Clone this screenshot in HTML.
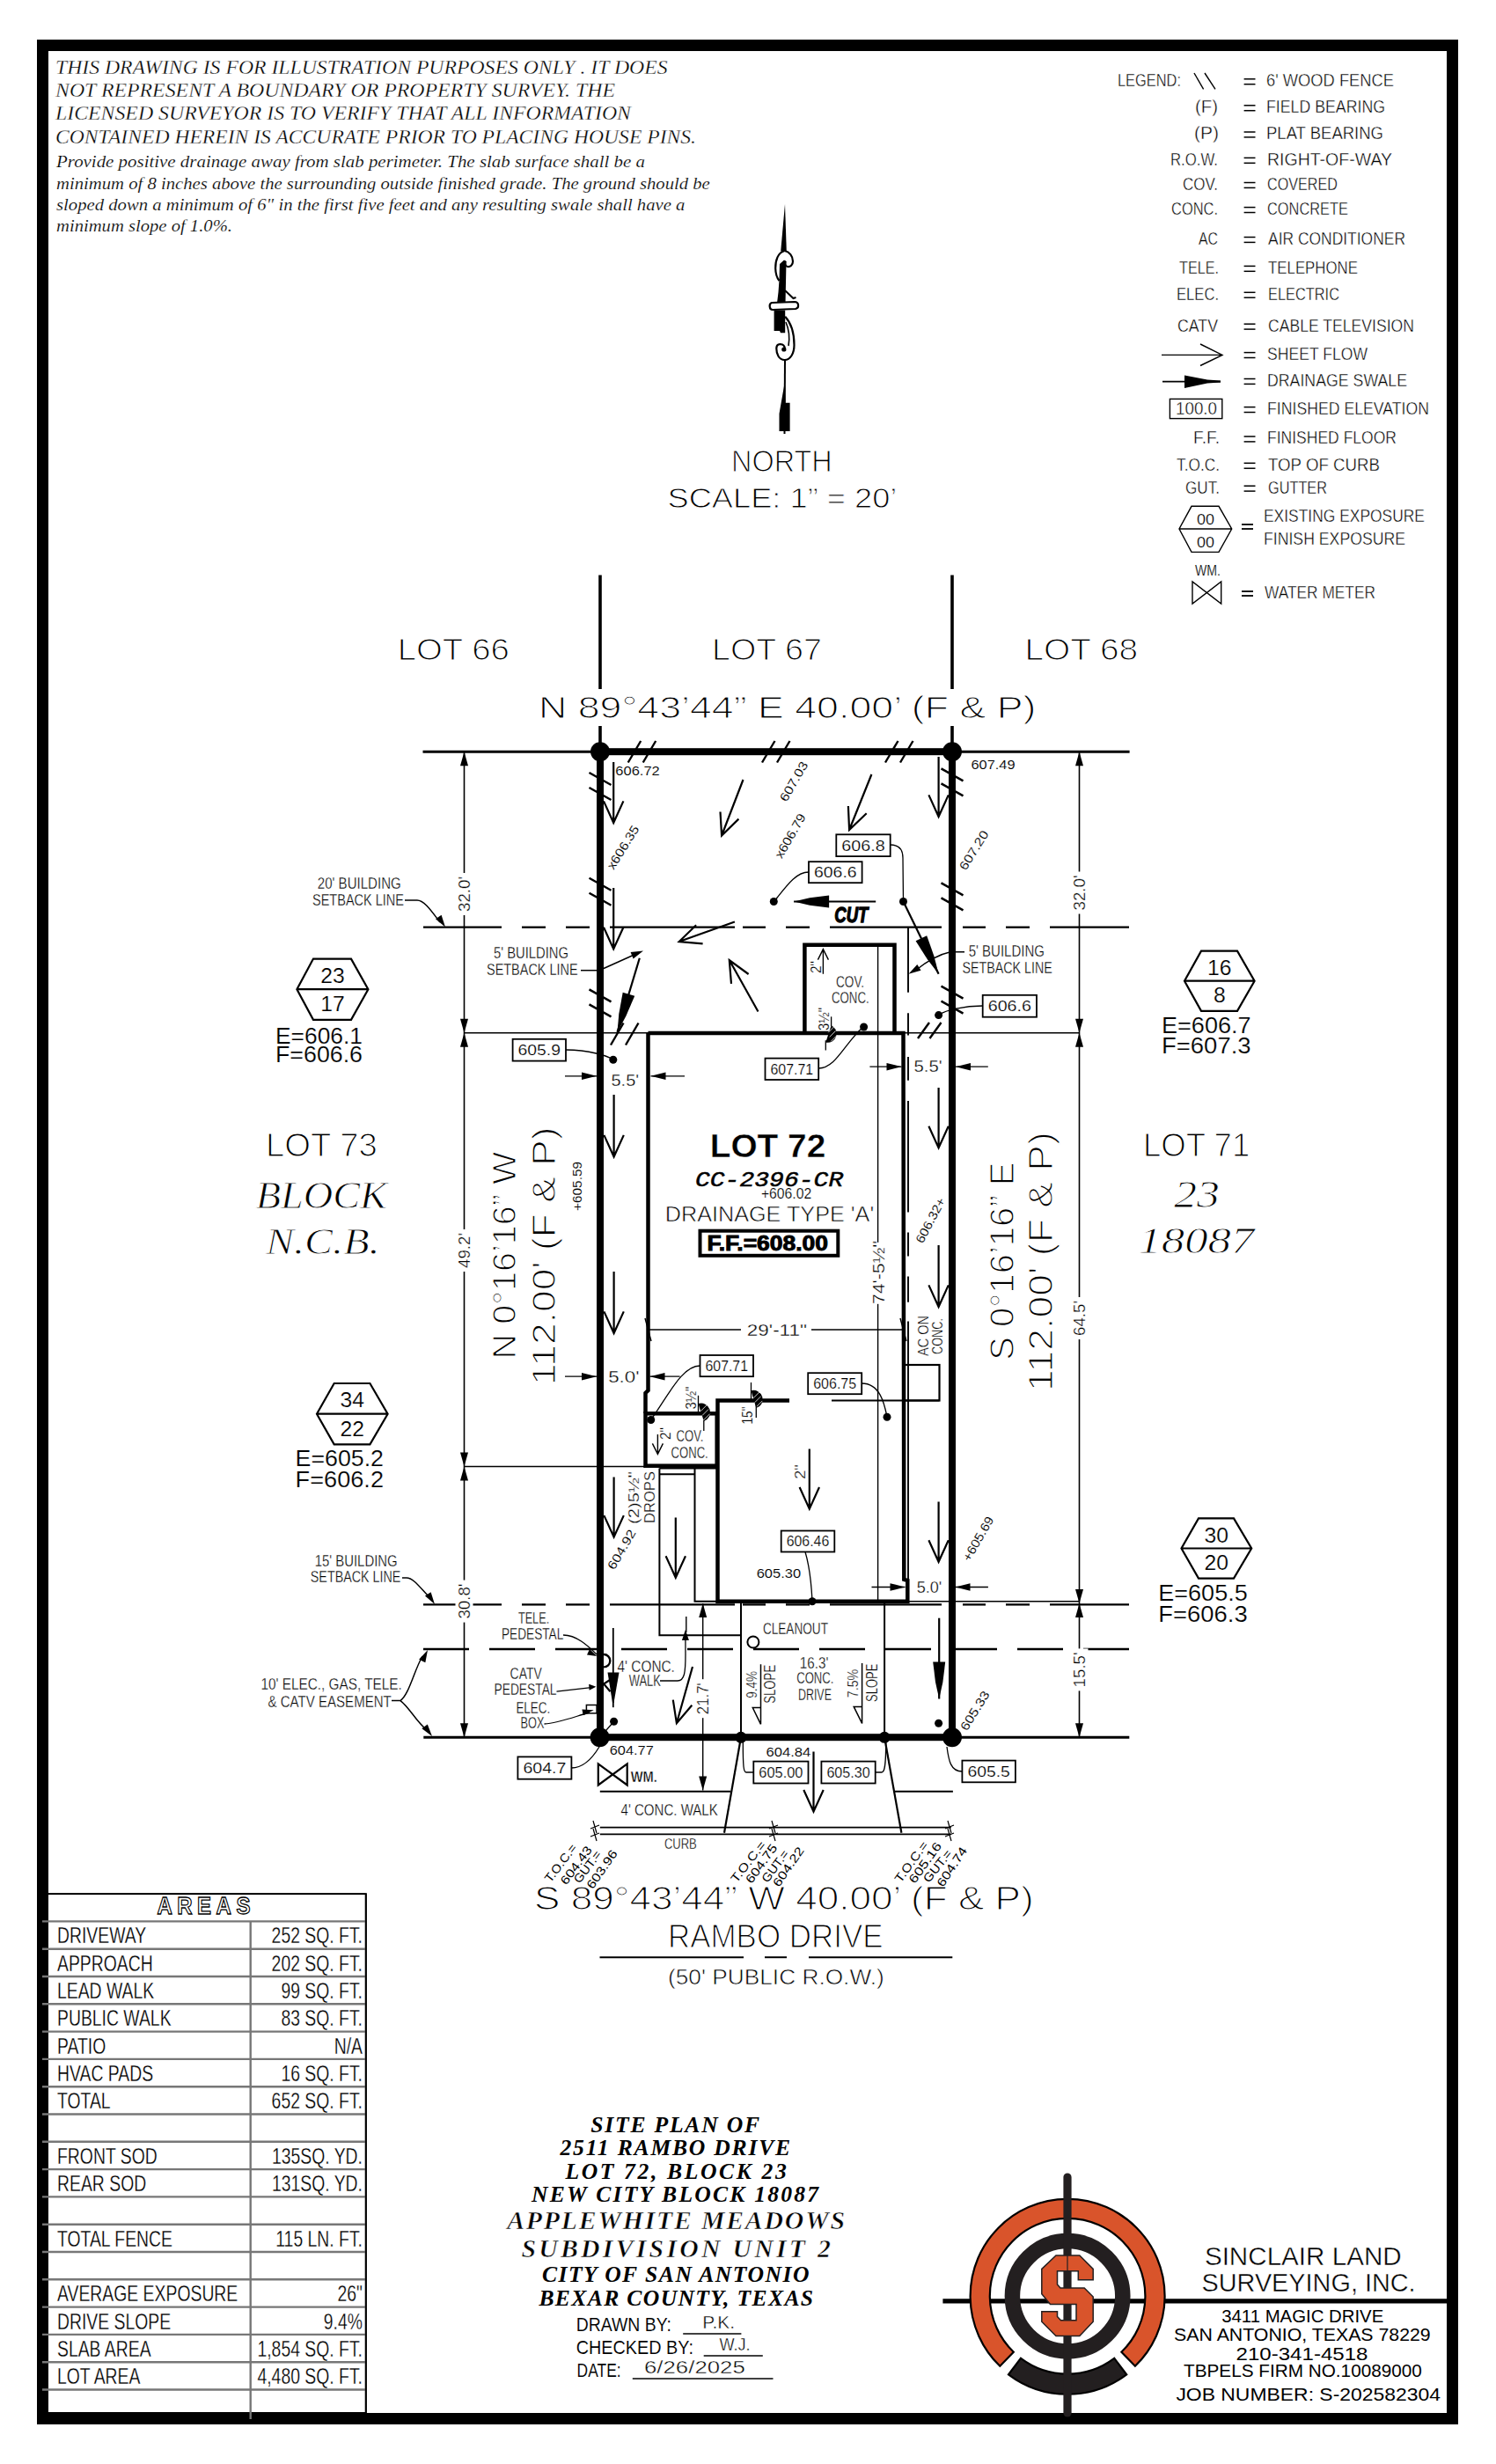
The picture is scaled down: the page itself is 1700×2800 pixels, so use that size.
<!DOCTYPE html>
<html><head><meta charset="utf-8"><title>Site Plan</title>
<style>
html,body{margin:0;padding:0;background:#fff;}
svg{display:block;}
text{font-family:"Liberation Sans",sans-serif;fill:#000;stroke:#fff;stroke-width:0.4px;}
.nt{stroke:none}
</style></head><body>
<svg width="1700" height="2800" viewBox="0 0 1700 2800">
<rect x="0" y="0" width="1700" height="2800" fill="#fff"/>
<rect x="48.5" y="51.5" width="1602" height="2697" fill="none" stroke="#000" stroke-width="13"/>
<text x="63" y="83.5" font-size="23.7" style="stroke:#fff;stroke-width:0.35px;font-family:'Liberation Serif'" font-style="italic" textLength="695.5" lengthAdjust="spacingAndGlyphs">THIS DRAWING IS FOR ILLUSTRATION PURPOSES ONLY . IT DOES</text>
<text x="63" y="109.8" font-size="23.7" style="stroke:#fff;stroke-width:0.35px;font-family:'Liberation Serif'" font-style="italic" textLength="636" lengthAdjust="spacingAndGlyphs">NOT REPRESENT A BOUNDARY OR PROPERTY SURVEY. THE</text>
<text x="63" y="136.4" font-size="23.7" style="stroke:#fff;stroke-width:0.35px;font-family:'Liberation Serif'" font-style="italic" textLength="654" lengthAdjust="spacingAndGlyphs">LICENSED SURVEYOR IS TO VERIFY THAT ALL INFORMATION</text>
<text x="63" y="163.2" font-size="23.7" style="stroke:#fff;stroke-width:0.35px;font-family:'Liberation Serif'" font-style="italic" textLength="728" lengthAdjust="spacingAndGlyphs">CONTAINED HEREIN IS ACCURATE PRIOR TO PLACING HOUSE PINS.</text>
<text x="64" y="190.3" font-size="19.1" style="stroke:#fff;stroke-width:0.2px;font-family:'Liberation Serif'" font-style="italic" textLength="669" lengthAdjust="spacingAndGlyphs">Provide positive drainage away from slab perimeter. The slab surface shall be a</text>
<text x="64" y="214.8" font-size="19.1" style="stroke:#fff;stroke-width:0.2px;font-family:'Liberation Serif'" font-style="italic" textLength="742.8" lengthAdjust="spacingAndGlyphs">minimum of 8 inches above the surrounding outside finished grade. The ground should be</text>
<text x="64" y="238.6" font-size="19.1" style="stroke:#fff;stroke-width:0.2px;font-family:'Liberation Serif'" font-style="italic" textLength="714.4" lengthAdjust="spacingAndGlyphs">sloped down a minimum of 6" in the first five feet and any resulting swale shall have a</text>
<text x="64" y="262.5" font-size="19.1" style="stroke:#fff;stroke-width:0.2px;font-family:'Liberation Serif'" font-style="italic" textLength="200" lengthAdjust="spacingAndGlyphs">minimum slope of 1.0%.</text>
<text x="1270" y="98.2" font-size="19.5" style=";stroke-width:0.4px" textLength="72" lengthAdjust="spacingAndGlyphs">LEGEND:</text>
<line x1="1413.6" y1="89.8" x2="1426.5" y2="89.8" stroke="#000" stroke-width="1.5" />
<line x1="1413.6" y1="95.7" x2="1426.5" y2="95.7" stroke="#000" stroke-width="1.5" />
<text x="1439" y="98.2" font-size="19.5" style=";stroke-width:0.4px" textLength="145" lengthAdjust="spacingAndGlyphs">6' WOOD FENCE</text>
<text x="1358" y="128.2" font-size="19.5" style=";stroke-width:0.4px" textLength="26" lengthAdjust="spacingAndGlyphs">(F)</text>
<line x1="1413.6" y1="119.8" x2="1426.5" y2="119.8" stroke="#000" stroke-width="1.5" />
<line x1="1413.6" y1="125.7" x2="1426.5" y2="125.7" stroke="#000" stroke-width="1.5" />
<text x="1439" y="128.2" font-size="19.5" style=";stroke-width:0.4px" textLength="135" lengthAdjust="spacingAndGlyphs">FIELD BEARING</text>
<text x="1357" y="158.4" font-size="19.5" style=";stroke-width:0.4px" textLength="28" lengthAdjust="spacingAndGlyphs">(P)</text>
<line x1="1413.6" y1="150" x2="1426.5" y2="150" stroke="#000" stroke-width="1.5" />
<line x1="1413.6" y1="155.9" x2="1426.5" y2="155.9" stroke="#000" stroke-width="1.5" />
<text x="1439" y="158.4" font-size="19.5" style=";stroke-width:0.4px" textLength="133" lengthAdjust="spacingAndGlyphs">PLAT BEARING</text>
<text x="1330" y="187.8" font-size="19.5" style=";stroke-width:0.4px" textLength="54" lengthAdjust="spacingAndGlyphs">R.O.W.</text>
<line x1="1413.6" y1="179.4" x2="1426.5" y2="179.4" stroke="#000" stroke-width="1.5" />
<line x1="1413.6" y1="185.3" x2="1426.5" y2="185.3" stroke="#000" stroke-width="1.5" />
<text x="1440" y="187.8" font-size="19.5" style=";stroke-width:0.4px" textLength="142" lengthAdjust="spacingAndGlyphs">RIGHT-OF-WAY</text>
<text x="1344" y="215.9" font-size="19.5" style=";stroke-width:0.4px" textLength="40" lengthAdjust="spacingAndGlyphs">COV.</text>
<line x1="1413.6" y1="207.5" x2="1426.5" y2="207.5" stroke="#000" stroke-width="1.5" />
<line x1="1413.6" y1="213.4" x2="1426.5" y2="213.4" stroke="#000" stroke-width="1.5" />
<text x="1440" y="215.9" font-size="19.5" style=";stroke-width:0.4px" textLength="80" lengthAdjust="spacingAndGlyphs">COVERED</text>
<text x="1331" y="244" font-size="19.5" style=";stroke-width:0.4px" textLength="53" lengthAdjust="spacingAndGlyphs">CONC.</text>
<line x1="1413.6" y1="235.6" x2="1426.5" y2="235.6" stroke="#000" stroke-width="1.5" />
<line x1="1413.6" y1="241.5" x2="1426.5" y2="241.5" stroke="#000" stroke-width="1.5" />
<text x="1440" y="244" font-size="19.5" style=";stroke-width:0.4px" textLength="92" lengthAdjust="spacingAndGlyphs">CONCRETE</text>
<text x="1362" y="277.9" font-size="19.5" style=";stroke-width:0.4px" textLength="22" lengthAdjust="spacingAndGlyphs">AC</text>
<line x1="1413.6" y1="269.5" x2="1426.5" y2="269.5" stroke="#000" stroke-width="1.5" />
<line x1="1413.6" y1="275.4" x2="1426.5" y2="275.4" stroke="#000" stroke-width="1.5" />
<text x="1441" y="277.9" font-size="19.5" style=";stroke-width:0.4px" textLength="156" lengthAdjust="spacingAndGlyphs">AIR CONDITIONER</text>
<text x="1340" y="310.8" font-size="19.5" style=";stroke-width:0.4px" textLength="45" lengthAdjust="spacingAndGlyphs">TELE.</text>
<line x1="1413.6" y1="302.4" x2="1426.5" y2="302.4" stroke="#000" stroke-width="1.5" />
<line x1="1413.6" y1="308.3" x2="1426.5" y2="308.3" stroke="#000" stroke-width="1.5" />
<text x="1441" y="310.8" font-size="19.5" style=";stroke-width:0.4px" textLength="102" lengthAdjust="spacingAndGlyphs">TELEPHONE</text>
<text x="1337" y="340.7" font-size="19.5" style=";stroke-width:0.4px" textLength="48" lengthAdjust="spacingAndGlyphs">ELEC.</text>
<line x1="1413.6" y1="332.3" x2="1426.5" y2="332.3" stroke="#000" stroke-width="1.5" />
<line x1="1413.6" y1="338.2" x2="1426.5" y2="338.2" stroke="#000" stroke-width="1.5" />
<text x="1441" y="340.7" font-size="19.5" style=";stroke-width:0.4px" textLength="81" lengthAdjust="spacingAndGlyphs">ELECTRIC</text>
<text x="1338" y="376.6" font-size="19.5" style=";stroke-width:0.4px" textLength="46" lengthAdjust="spacingAndGlyphs">CATV</text>
<line x1="1413.6" y1="368.2" x2="1426.5" y2="368.2" stroke="#000" stroke-width="1.5" />
<line x1="1413.6" y1="374.1" x2="1426.5" y2="374.1" stroke="#000" stroke-width="1.5" />
<text x="1441" y="376.6" font-size="19.5" style=";stroke-width:0.4px" textLength="166" lengthAdjust="spacingAndGlyphs">CABLE TELEVISION</text>
<line x1="1413.6" y1="400.6" x2="1426.5" y2="400.6" stroke="#000" stroke-width="1.5" />
<line x1="1413.6" y1="406.5" x2="1426.5" y2="406.5" stroke="#000" stroke-width="1.5" />
<text x="1440" y="409" font-size="19.5" style=";stroke-width:0.4px" textLength="114" lengthAdjust="spacingAndGlyphs">SHEET FLOW</text>
<line x1="1413.6" y1="430.5" x2="1426.5" y2="430.5" stroke="#000" stroke-width="1.5" />
<line x1="1413.6" y1="436.4" x2="1426.5" y2="436.4" stroke="#000" stroke-width="1.5" />
<text x="1440" y="438.9" font-size="19.5" style=";stroke-width:0.4px" textLength="159" lengthAdjust="spacingAndGlyphs">DRAINAGE SWALE</text>
<line x1="1413.6" y1="462.6" x2="1426.5" y2="462.6" stroke="#000" stroke-width="1.5" />
<line x1="1413.6" y1="468.5" x2="1426.5" y2="468.5" stroke="#000" stroke-width="1.5" />
<text x="1440" y="471" font-size="19.5" style=";stroke-width:0.4px" textLength="184" lengthAdjust="spacingAndGlyphs">FINISHED ELEVATION</text>
<text x="1356" y="504.4" font-size="19.5" style=";stroke-width:0.4px" textLength="30" lengthAdjust="spacingAndGlyphs">F.F.</text>
<line x1="1413.6" y1="496" x2="1426.5" y2="496" stroke="#000" stroke-width="1.5" />
<line x1="1413.6" y1="501.9" x2="1426.5" y2="501.9" stroke="#000" stroke-width="1.5" />
<text x="1440" y="504.4" font-size="19.5" style=";stroke-width:0.4px" textLength="147" lengthAdjust="spacingAndGlyphs">FINISHED FLOOR</text>
<text x="1337" y="534.7" font-size="19.5" style=";stroke-width:0.4px" textLength="49" lengthAdjust="spacingAndGlyphs">T.O.C.</text>
<line x1="1413.6" y1="526.3" x2="1426.5" y2="526.3" stroke="#000" stroke-width="1.5" />
<line x1="1413.6" y1="532.2" x2="1426.5" y2="532.2" stroke="#000" stroke-width="1.5" />
<text x="1441" y="534.7" font-size="19.5" style=";stroke-width:0.4px" textLength="127" lengthAdjust="spacingAndGlyphs">TOP OF CURB</text>
<text x="1347" y="560.6" font-size="19.5" style=";stroke-width:0.4px" textLength="39" lengthAdjust="spacingAndGlyphs">GUT.</text>
<line x1="1413.6" y1="552.2" x2="1426.5" y2="552.2" stroke="#000" stroke-width="1.5" />
<line x1="1413.6" y1="558.1" x2="1426.5" y2="558.1" stroke="#000" stroke-width="1.5" />
<text x="1441" y="560.6" font-size="19.5" style=";stroke-width:0.4px" textLength="67" lengthAdjust="spacingAndGlyphs">GUTTER</text>
<line x1="1357" y1="83" x2="1367.6" y2="101.4" stroke="#000" stroke-width="1.4" />
<line x1="1369" y1="83" x2="1381" y2="101.4" stroke="#000" stroke-width="1.4" />
<path d="M1320 403.4 L1389 403.4 M1364 391 L1389 403.4 L1364 415.5" fill="none" stroke="#000" stroke-width="1.4" />
<line x1="1321" y1="433.6" x2="1387" y2="433.6" stroke="#000" stroke-width="1.8" />
<path d="M1346 426.5 L1346 441 L1372 435.5 L1387 434.5 L1387 432.5 L1372 431.5 Z" fill="#000" stroke="none" />
<rect x="1329.4" y="453.4" width="59.4" height="22.2" fill="none" stroke="#000" stroke-width="1.4"/>
<text x="1336" y="471" font-size="19.5" style=";stroke-width:0.4px" textLength="47" lengthAdjust="spacingAndGlyphs">100.0</text>
<path d="M1354 575.3 L1385 575.3 L1399.7 601 L1385 627.4 L1354 627.4 L1340 601 Z M1340 601 L1399.7 601" fill="none" stroke="#000" stroke-width="1.4" />
<text x="1360" y="596" font-size="16" style=";stroke-width:0.2px" textLength="20" lengthAdjust="spacingAndGlyphs">00</text>
<text x="1360" y="622" font-size="16" style=";stroke-width:0.2px" textLength="20" lengthAdjust="spacingAndGlyphs">00</text>
<line x1="1411" y1="596" x2="1424" y2="596" stroke="#000" stroke-width="1.8" />
<line x1="1411" y1="601" x2="1424" y2="601" stroke="#000" stroke-width="1.8" />
<text x="1436" y="592.7" font-size="19.5" style=";stroke-width:0.4px" textLength="183" lengthAdjust="spacingAndGlyphs">EXISTING EXPOSURE</text>
<text x="1436" y="618.6" font-size="19.5" style=";stroke-width:0.4px" textLength="161" lengthAdjust="spacingAndGlyphs">FINISH EXPOSURE</text>
<text x="1358" y="654" font-size="16" style=";stroke-width:0.2px" textLength="29" lengthAdjust="spacingAndGlyphs">WM.</text>
<path d="M1355 661 L1355 686 L1387.7 661 L1387.7 686 Z" fill="none" stroke="#000" stroke-width="1.4" />
<line x1="1411" y1="672" x2="1424" y2="672" stroke="#000" stroke-width="1.8" />
<line x1="1411" y1="677" x2="1424" y2="677" stroke="#000" stroke-width="1.8" />
<text x="1437" y="679.6" font-size="19.5" style=";stroke-width:0.4px" textLength="126" lengthAdjust="spacingAndGlyphs">WATER METER</text>
<path d="M892 232 L887.2 285.5 L893.8 285.5 Z" fill="#000" stroke="none" />
<path d="M891.6 285 C 884 287, 881 296, 881.2 305 C 881.4 312, 883 316, 885.5 319" fill="none" stroke="#000" stroke-width="2.2" />
<path d="M891.6 285 C 897 286, 901 291, 901 297 C 901 301, 898 303.5, 895 303 C 892 302.5, 891.5 299, 892.5 296.5" fill="none" stroke="#000" stroke-width="2.2" />
<path d="M886 300 L891 295.5 L893.5 297 L892.5 345.5 L882.9 345.5 L884.5 332 L885.5 318 Z" fill="#000" stroke="none" />
<path d="M892 330 L901.5 339 L904.5 338" fill="none" stroke="#000" stroke-width="2" />
<path d="M877 344 L903 343 C 908 343, 908.5 350, 904 351 L878 352 C 874 352, 873.5 345, 877 344 Z" fill="#fff" stroke="#000" stroke-width="2.2" />
<path d="M879.6 352.5 L892.2 352.5 L892.2 378.3 L887 378.3 L886 376 L879.6 376 Z" fill="#000" stroke="none" />
<path d="M892.2 359.7 C 899 367, 902.5 378, 902.5 392 C 902.5 402, 898 409, 891.6 409 C 885 409, 882.3 402, 882.3 396 C 882.3 391, 886 390.5, 889 391.5 C 891.5 392.5, 892.2 396, 892 399" fill="none" stroke="#000" stroke-width="2.2" />
<path d="M893 366 C 896.5 374, 897.5 384, 896 393" fill="none" stroke="#000" stroke-width="1.6" />
<circle cx="890.8" cy="397" r="2.6" fill="#000" stroke="none" stroke-width="0"/>
<line x1="892" y1="409" x2="891.5" y2="493" stroke="#000" stroke-width="2" />
<path d="M892 433 L885.5 470 L885.5 490 L897.6 490 L897.6 457.7 L892.5 457.7 Z" fill="#000" stroke="none" />
<text x="831" y="535.9" font-size="35.8" style=";stroke-width:1.2px" textLength="114.7" lengthAdjust="spacingAndGlyphs">NORTH</text>
<text x="758.5" y="576.8" font-size="30.5" style=";stroke-width:0.9px" textLength="260.9" lengthAdjust="spacingAndGlyphs">SCALE:  1”  =  20’</text>
<line x1="682" y1="653.5" x2="682" y2="783" stroke="#000" stroke-width="3.6" />
<line x1="682" y1="825" x2="682" y2="854" stroke="#000" stroke-width="3.6" />
<line x1="1082" y1="653.5" x2="1082" y2="783" stroke="#000" stroke-width="3.6" />
<line x1="1082" y1="825" x2="1082" y2="854" stroke="#000" stroke-width="3.6" />
<text x="451.7" y="749.8" font-size="35.9" style=";stroke-width:1.2px" textLength="127.2" lengthAdjust="spacingAndGlyphs">LOT 66</text>
<text x="809" y="749.8" font-size="35.9" style=";stroke-width:1.2px" textLength="125" lengthAdjust="spacingAndGlyphs">LOT 67</text>
<text x="1164.5" y="749.8" font-size="35.9" style=";stroke-width:1.2px" textLength="128.7" lengthAdjust="spacingAndGlyphs">LOT 68</text>
<text x="612" y="816" font-size="34.9" style=";stroke-width:1.1px" textLength="565.4" lengthAdjust="spacingAndGlyphs">N 89°43’44” E 40.00’ (F &amp; P)</text>
<line x1="480.5" y1="854.2" x2="1283.6" y2="854.2" stroke="#000" stroke-width="3" />
<line x1="481.3" y1="1974.3" x2="1283.3" y2="1974.3" stroke="#000" stroke-width="3" />
<rect x="682" y="854.2" width="400" height="1120" fill="none" stroke="#000" stroke-width="8"/>
<circle cx="682" cy="854.2" r="11" fill="#000" stroke="none" stroke-width="0"/>
<circle cx="1082" cy="854.2" r="11" fill="#000" stroke="none" stroke-width="0"/>
<circle cx="681.6" cy="1974.2" r="11" fill="#000" stroke="none" stroke-width="0"/>
<circle cx="1082" cy="1974.2" r="11" fill="#000" stroke="none" stroke-width="0"/>
<circle cx="842" cy="1974.3" r="6.5" fill="#000" stroke="none" stroke-width="0"/>
<circle cx="1005.1" cy="1974.3" r="6.5" fill="#000" stroke="none" stroke-width="0"/>
<line x1="481" y1="1053.7" x2="570" y2="1053.7" stroke="#000" stroke-width="2.3" />
<line x1="481" y1="1823.4" x2="570" y2="1823.4" stroke="#000" stroke-width="2.3" />
<line x1="593" y1="1053.7" x2="620" y2="1053.7" stroke="#000" stroke-width="2.3" />
<line x1="593" y1="1823.4" x2="620" y2="1823.4" stroke="#000" stroke-width="2.3" />
<line x1="643" y1="1053.7" x2="670" y2="1053.7" stroke="#000" stroke-width="2.3" />
<line x1="643" y1="1823.4" x2="670" y2="1823.4" stroke="#000" stroke-width="2.3" />
<line x1="693" y1="1053.7" x2="835" y2="1053.7" stroke="#000" stroke-width="2.3" />
<line x1="693" y1="1823.4" x2="835" y2="1823.4" stroke="#000" stroke-width="2.3" />
<line x1="844" y1="1053.7" x2="870" y2="1053.7" stroke="#000" stroke-width="2.3" />
<line x1="844" y1="1823.4" x2="870" y2="1823.4" stroke="#000" stroke-width="2.3" />
<line x1="893" y1="1053.7" x2="920" y2="1053.7" stroke="#000" stroke-width="2.3" />
<line x1="893" y1="1823.4" x2="920" y2="1823.4" stroke="#000" stroke-width="2.3" />
<line x1="943" y1="1053.7" x2="1070" y2="1053.7" stroke="#000" stroke-width="2.3" />
<line x1="943" y1="1823.4" x2="1070" y2="1823.4" stroke="#000" stroke-width="2.3" />
<line x1="1094" y1="1053.7" x2="1120" y2="1053.7" stroke="#000" stroke-width="2.3" />
<line x1="1094" y1="1823.4" x2="1120" y2="1823.4" stroke="#000" stroke-width="2.3" />
<line x1="1143" y1="1053.7" x2="1170" y2="1053.7" stroke="#000" stroke-width="2.3" />
<line x1="1143" y1="1823.4" x2="1170" y2="1823.4" stroke="#000" stroke-width="2.3" />
<line x1="1193" y1="1053.7" x2="1283" y2="1053.7" stroke="#000" stroke-width="2.3" />
<line x1="1193" y1="1823.4" x2="1283" y2="1823.4" stroke="#000" stroke-width="2.3" />
<line x1="481" y1="1874" x2="1283" y2="1874" stroke="#000" stroke-width="2.3" stroke-dasharray="52 23"/>
<line x1="527.5" y1="854.2" x2="527.5" y2="1974.3" stroke="#000" stroke-width="1.6" />
<path d="M527.5 854.2 L532 870.2 L523 870.2 Z" fill="#000" stroke="none" />
<path d="M527.5 1173.8 L523 1157.8 L532 1157.8 Z" fill="#000" stroke="none" />
<path d="M527.5 1173.8 L532 1189.8 L523 1189.8 Z" fill="#000" stroke="none" />
<path d="M527.5 1974.3 L523 1958.3 L532 1958.3 Z" fill="#000" stroke="none" />
<line x1="1226.5" y1="854.2" x2="1226.5" y2="1974.3" stroke="#000" stroke-width="1.6" />
<path d="M1226.5 854.2 L1231 870.2 L1222 870.2 Z" fill="#000" stroke="none" />
<path d="M1226.5 1173.8 L1222 1157.8 L1231 1157.8 Z" fill="#000" stroke="none" />
<path d="M1226.5 1173.8 L1231 1189.8 L1222 1189.8 Z" fill="#000" stroke="none" />
<path d="M1226.5 1974.3 L1222 1958.3 L1231 1958.3 Z" fill="#000" stroke="none" />
<path d="M527.5 1666.5 L523 1650.5 L532 1650.5 Z" fill="#000" stroke="none" />
<path d="M527.5 1666.5 L532 1682.5 L523 1682.5 Z" fill="#000" stroke="none" />
<path d="M527.5 1823.4 L523 1807.4 L532 1807.4 Z" fill="#000" stroke="none" />
<path d="M527.5 1823.4 L532 1839.4 L523 1839.4 Z" fill="#000" stroke="none" />
<path d="M1226.5 1822 L1222 1806 L1231 1806 Z" fill="#000" stroke="none" />
<path d="M1226.5 1822 L1231 1838 L1222 1838 Z" fill="#000" stroke="none" />
<line x1="528" y1="1173.8" x2="1226.5" y2="1173.8" stroke="#000" stroke-width="1.4" />
<line x1="528" y1="1666.5" x2="733" y2="1666.5" stroke="#000" stroke-width="1.4" />
<line x1="1031" y1="1819.8" x2="1226.5" y2="1819.8" stroke="#000" stroke-width="1.4" />
<rect x="503.5" y="1006" width="48" height="20" fill="#fff" transform="rotate(-90 527.5 1016)"/>
<text transform="translate(533.8,1036) rotate(-90)" x="0" y="0" font-size="18.2" style=";stroke-width:0.3px" textLength="40" lengthAdjust="spacingAndGlyphs">32.0'</text>
<rect x="1202.5" y="1004.5" width="48" height="20" fill="#fff" transform="rotate(-90 1226.5 1014.5)"/>
<text transform="translate(1232.8,1034.5) rotate(-90)" x="0" y="0" font-size="18.2" style=";stroke-width:0.3px" textLength="40" lengthAdjust="spacingAndGlyphs">32.0'</text>
<rect x="503.5" y="1411" width="48" height="20" fill="#fff" transform="rotate(-90 527.5 1421)"/>
<text transform="translate(533.8,1441) rotate(-90)" x="0" y="0" font-size="18.2" style=";stroke-width:0.3px" textLength="40" lengthAdjust="spacingAndGlyphs">49.2'</text>
<rect x="1202.5" y="1488" width="48" height="20" fill="#fff" transform="rotate(-90 1226.5 1498)"/>
<text transform="translate(1232.8,1518) rotate(-90)" x="0" y="0" font-size="18.2" style=";stroke-width:0.3px" textLength="40" lengthAdjust="spacingAndGlyphs">64.5'</text>
<rect x="503.5" y="1809.6" width="48" height="20" fill="#fff" transform="rotate(-90 527.5 1819.6)"/>
<text transform="translate(533.8,1839.6) rotate(-90)" x="0" y="0" font-size="18.2" style=";stroke-width:0.3px" textLength="40" lengthAdjust="spacingAndGlyphs">30.8'</text>
<rect x="1202.5" y="1887.4" width="48" height="20" fill="#fff" transform="rotate(-90 1226.5 1897.4)"/>
<text transform="translate(1232.8,1917.4) rotate(-90)" x="0" y="0" font-size="18.2" style=";stroke-width:0.3px" textLength="40" lengthAdjust="spacingAndGlyphs">15.5'</text>
<text x="360.8" y="1010" font-size="18.3" style=";stroke-width:0.3px" textLength="95" lengthAdjust="spacingAndGlyphs">20' BUILDING</text>
<text x="355" y="1029.2" font-size="18.3" style=";stroke-width:0.3px" textLength="104" lengthAdjust="spacingAndGlyphs">SETBACK LINE</text>
<path d="M460 1023 L474 1023 C 482 1023, 490 1035, 500 1048" fill="none" stroke="#000" stroke-width="1.5" />
<path d="M506 1053.6 L495 1044.2 L501.6 1039.8 Z" fill="#000" stroke="none" />
<text x="561" y="1088.6" font-size="18.3" style=";stroke-width:0.3px" textLength="85" lengthAdjust="spacingAndGlyphs">5' BUILDING</text>
<text x="553" y="1108.3" font-size="18.3" style=";stroke-width:0.3px" textLength="103.6" lengthAdjust="spacingAndGlyphs">SETBACK LINE</text>
<line x1="660" y1="1102.7" x2="681" y2="1102.7" stroke="#000" stroke-width="1.5" />
<line x1="681" y1="1102.7" x2="725" y2="1083" stroke="#000" stroke-width="1.5" />
<path d="M731 1080.5 L719.6 1089.5 L716.6 1082.1 Z" fill="#000" stroke="none" />
<text x="1100.7" y="1086.7" font-size="18.3" style=";stroke-width:0.3px" textLength="86.3" lengthAdjust="spacingAndGlyphs">5' BUILDING</text>
<text x="1093.5" y="1106" font-size="18.3" style=";stroke-width:0.3px" textLength="102.3" lengthAdjust="spacingAndGlyphs">SETBACK LINE</text>
<path d="M1096 1081.8 L1080 1081.8 C 1065 1085, 1050 1095, 1040 1103" fill="none" stroke="#000" stroke-width="1.5" />
<path d="M1032.5 1106.7 L1042.3 1096 L1046.5 1102.8 Z" fill="#000" stroke="none" />
<text x="357.7" y="1780" font-size="18.3" style=";stroke-width:0.3px" textLength="94" lengthAdjust="spacingAndGlyphs">15' BUILDING</text>
<text x="352.8" y="1798.1" font-size="18.3" style=";stroke-width:0.3px" textLength="102.6" lengthAdjust="spacingAndGlyphs">SETBACK LINE</text>
<path d="M457 1793 L462 1793 C 470 1793, 478 1805, 488 1815" fill="none" stroke="#000" stroke-width="1.5" />
<path d="M494 1823 L483 1813.6 L489.6 1809.2 Z" fill="#000" stroke="none" />
<text x="296.4" y="1920.3" font-size="18.3" style=";stroke-width:0.3px" textLength="160.4" lengthAdjust="spacingAndGlyphs">10' ELEC., GAS, TELE.</text>
<text x="304.5" y="1940.4" font-size="18.3" style=";stroke-width:0.3px" textLength="140.3" lengthAdjust="spacingAndGlyphs">&amp; CATV EASEMENT</text>
<path d="M445 1932.6 L455 1932.6 C 465 1925, 470 1900, 480 1882" fill="none" stroke="#000" stroke-width="1.5" />
<path d="M455 1932.6 C 465 1940, 472 1955, 484 1965" fill="none" stroke="#000" stroke-width="1.5" />
<path d="M486 1875 L483.3 1889.3 L476.1 1885.7 Z" fill="#000" stroke="none" />
<path d="M491 1973 L479.4 1964.2 L485.8 1959.4 Z" fill="#000" stroke="none" />
<path d="M356 1089.6 L399 1089.6 L418.4 1124.2 L399 1158.8 L356 1158.8 L337.4 1124.2 Z M337.4 1124.2 L418.4 1124.2" fill="none" stroke="#000" stroke-width="2.2" />
<text x="377.9" y="1116.9" font-size="24.7" style="stroke-width:0.2px" text-anchor="middle">23</text>
<text x="377.9" y="1149" font-size="24.7" style="stroke-width:0.2px" text-anchor="middle">17</text>
<text x="313" y="1185.5" font-size="25.1" style="stroke-width:0.2px" textLength="99" lengthAdjust="spacingAndGlyphs">E=606.1</text>
<text x="313" y="1206.6" font-size="25.1" style="stroke-width:0.2px" textLength="99" lengthAdjust="spacingAndGlyphs">F=606.6</text>
<path d="M1365 1080.6 L1406 1080.6 L1425.6 1114.7 L1406 1148.8 L1365 1148.8 L1346 1114.7 Z M1346 1114.7 L1425.6 1114.7" fill="none" stroke="#000" stroke-width="2.2" />
<text x="1385.8" y="1107.6" font-size="24.7" style="stroke-width:0.2px" text-anchor="middle">16</text>
<text x="1385.8" y="1139.2" font-size="24.7" style="stroke-width:0.2px" text-anchor="middle">8</text>
<text x="1320" y="1174" font-size="25.1" style="stroke-width:0.2px" textLength="101.6" lengthAdjust="spacingAndGlyphs">E=606.7</text>
<text x="1320" y="1197.4" font-size="25.1" style="stroke-width:0.2px" textLength="101.6" lengthAdjust="spacingAndGlyphs">F=607.3</text>
<path d="M379.7 1572 L420.4 1572 L440.6 1606.7 L420.4 1641.3 L379.7 1641.3 L360 1606.7 Z M360 1606.7 L440.6 1606.7" fill="none" stroke="#000" stroke-width="2.2" />
<text x="400.3" y="1599.3" font-size="24.7" style="stroke-width:0.2px" text-anchor="middle">34</text>
<text x="400.3" y="1631.5" font-size="24.7" style="stroke-width:0.2px" text-anchor="middle">22</text>
<text x="335.6" y="1666.4" font-size="25.1" style="stroke-width:0.2px" textLength="100.4" lengthAdjust="spacingAndGlyphs">E=605.2</text>
<text x="335.6" y="1690.3" font-size="25.1" style="stroke-width:0.2px" textLength="100.4" lengthAdjust="spacingAndGlyphs">F=606.2</text>
<path d="M1362 1725.4 L1402 1725.4 L1422.2 1759.5 L1402 1793.6 L1362 1793.6 L1342.5 1759.5 Z M1342.5 1759.5 L1422.2 1759.5" fill="none" stroke="#000" stroke-width="2.2" />
<text x="1382.3" y="1752.5" font-size="24.7" style="stroke-width:0.2px" text-anchor="middle">30</text>
<text x="1382.3" y="1784" font-size="24.7" style="stroke-width:0.2px" text-anchor="middle">20</text>
<text x="1316.3" y="1818.6" font-size="25.1" style="stroke-width:0.2px" textLength="101.4" lengthAdjust="spacingAndGlyphs">E=605.5</text>
<text x="1316.3" y="1843.4" font-size="25.1" style="stroke-width:0.2px" textLength="101.4" lengthAdjust="spacingAndGlyphs">F=606.3</text>
<text x="301.9" y="1314.2" font-size="36.8" style=";stroke-width:1.2px" textLength="126.9" lengthAdjust="spacingAndGlyphs">LOT 73</text>
<text x="290.7" y="1372.6" font-size="44.3" style="stroke:#fff;stroke-width:0.9px;font-family:'Liberation Serif'" font-style="italic" textLength="149.3" lengthAdjust="spacingAndGlyphs">BLOCK</text>
<text x="301.9" y="1425.1" font-size="42.7" style="stroke:#fff;stroke-width:0.9px;font-family:'Liberation Serif'" font-style="italic" textLength="129.7" lengthAdjust="spacingAndGlyphs">N.C.B.</text>
<text x="1299" y="1314.2" font-size="36.8" style=";stroke-width:1.2px" textLength="121.3" lengthAdjust="spacingAndGlyphs">LOT 71</text>
<text x="1334" y="1371.8" font-size="44.3" style="stroke:#fff;stroke-width:0.9px;font-family:'Liberation Serif'" font-style="italic" textLength="52" lengthAdjust="spacingAndGlyphs">23</text>
<text x="1293.4" y="1423.7" font-size="42.7" style="stroke:#fff;stroke-width:0.9px;font-family:'Liberation Serif'" font-style="italic" textLength="131.9" lengthAdjust="spacingAndGlyphs">18087</text>
<text transform="translate(586,1544.4) rotate(-90)" x="0" y="0" font-size="36.8" style=";stroke-width:1.2px" textLength="235.8" lengthAdjust="spacingAndGlyphs">N 0°16’16” W</text>
<text transform="translate(631,1574) rotate(-90)" x="0" y="0" font-size="36.8" style=";stroke-width:1.2px" textLength="293.5" lengthAdjust="spacingAndGlyphs">112.00' (F &amp; P)</text>
<text transform="translate(1151.6,1545.8) rotate(-90)" x="0" y="0" font-size="38.8" style=";stroke-width:1.3px" textLength="225.4" lengthAdjust="spacingAndGlyphs">S 0°16’16” E</text>
<text transform="translate(1196,1581) rotate(-90)" x="0" y="0" font-size="38.1" style=";stroke-width:1.3px" textLength="294.9" lengthAdjust="spacingAndGlyphs">112.00' (F &amp; P)</text>
<text x="607" y="2170.2" font-size="36.3" style=";stroke-width:1.2px" textLength="567.7" lengthAdjust="spacingAndGlyphs">S 89°43’44” W 40.00’ (F &amp; P)</text>
<text x="759" y="2213.4" font-size="36" style=";stroke-width:1.2px" textLength="244.5" lengthAdjust="spacingAndGlyphs">RAMBO DRIVE</text>
<line x1="681.5" y1="2224.2" x2="845" y2="2224.2" stroke="#000" stroke-width="2" />
<line x1="869" y1="2224.2" x2="894" y2="2224.2" stroke="#000" stroke-width="2" />
<line x1="919" y1="2224.2" x2="1082.3" y2="2224.2" stroke="#000" stroke-width="2" />
<text x="759" y="2254.9" font-size="23.5" style=";stroke-width:0.6px" textLength="245.8" lengthAdjust="spacingAndGlyphs">(50' PUBLIC R.O.W.)</text>
<path d="M736.5 1174 L1026.5 1174 L1027.3 1794.8 L1031.3 1796 L1031.3 1819.7 L815.5 1819.7 L815.5 1666 M736.5 1174 L736.5 1580 L733.5 1583 L733.5 1606" fill="none" stroke="#000" stroke-width="4.5" stroke-linejoin="miter"/>
<path d="M914.4 1174 L914.4 1073.7 L1016.5 1073.7 L1016.5 1174" fill="none" stroke="#000" stroke-width="4.5" />
<rect x="733.5" y="1606.3" width="81.2" height="59.4" fill="none" stroke="#000" stroke-width="4.5"/>
<path d="M815.5 1666 L815.5 1591.5 L897 1591.5" fill="none" stroke="#000" stroke-width="4.5" />
<line x1="945" y1="1591.5" x2="1067.5" y2="1591.5" stroke="#000" stroke-width="2.2" />
<rect x="1027.3" y="1551" width="40.2" height="40.5" fill="none" stroke="#000" stroke-width="2.2"/>
<line x1="997.6" y1="1073.7" x2="997.6" y2="1819.7" stroke="#000" stroke-width="1.4" />
<rect x="962" y="1437.8" width="70" height="18" fill="#fff" transform="rotate(-90 997 1446.8)"/>
<text transform="translate(1004.5,1482) rotate(-90)" x="0" y="0" font-size="18.2" style=";stroke-width:0.3px" textLength="72" lengthAdjust="spacingAndGlyphs">74'-5½"</text>
<line x1="736.5" y1="1511" x2="1026.5" y2="1511" stroke="#000" stroke-width="1.4" />
<rect x="842" y="1500" width="80" height="20" fill="#fff"/>
<text x="848.8" y="1518.2" font-size="18.2" style=";stroke-width:0.3px" textLength="68.2" lengthAdjust="spacingAndGlyphs">29'-11"</text>
<line x1="733" y1="1498" x2="740" y2="1524" stroke="#000" stroke-width="1.4" />
<line x1="1023" y1="1498" x2="1030" y2="1524" stroke="#000" stroke-width="1.4" />
<text x="806.7" y="1314.5" font-size="37.8" font-weight="bold" textLength="131.6" lengthAdjust="spacingAndGlyphs">LOT 72</text>
<text x="789.9" y="1347.8" font-size="23.4" style="stroke:#000;stroke-width:0.5px;font-family:'Liberation Mono'" font-style="italic" textLength="168.4" lengthAdjust="spacingAndGlyphs">CC-2396-CR</text>
<text x="864.9" y="1361.8" font-size="16" style=";stroke-width:0.2px" textLength="57.3" lengthAdjust="spacingAndGlyphs">+606.02</text>
<text x="755.8" y="1387.5" font-size="24.7" style=";stroke-width:0.6px" textLength="237.4" lengthAdjust="spacingAndGlyphs">DRAINAGE TYPE 'A'</text>
<rect x="795.5" y="1398.7" width="156.8" height="28.1" fill="none" stroke="#000" stroke-width="4"/>
<text x="803.5" y="1420.8" font-size="23.3" style="stroke:#000;stroke-width:0.9px" font-weight="bold" textLength="137.5" lengthAdjust="spacingAndGlyphs">F.F.=608.00</text>
<text transform="translate(1054.8,1541) rotate(-90)" x="0" y="0" font-size="17.4" style=";stroke-width:0.3px" textLength="46" lengthAdjust="spacingAndGlyphs">AC ON</text>
<text transform="translate(1070.8,1539) rotate(-90)" x="0" y="0" font-size="17.4" style=";stroke-width:0.3px" textLength="41" lengthAdjust="spacingAndGlyphs">CONC.</text>
<line x1="1032" y1="1053.8" x2="1032" y2="1127.7" stroke="#000" stroke-width="1.9" />
<line x1="1032" y1="1151.2" x2="1032" y2="1176.4" stroke="#000" stroke-width="1.9" />
<line x1="1032" y1="1201" x2="1032" y2="1227.7" stroke="#000" stroke-width="1.9" />
<line x1="1032" y1="1250.9" x2="1032" y2="1377.5" stroke="#000" stroke-width="1.9" />
<line x1="1032" y1="1400.6" x2="1032" y2="1427.4" stroke="#000" stroke-width="1.9" />
<line x1="1032" y1="1450.5" x2="1032" y2="1479.8" stroke="#000" stroke-width="1.9" />
<line x1="1032" y1="1501.4" x2="1032" y2="1820" stroke="#000" stroke-width="1.9" />
<text transform="translate(726,1732) rotate(-90)" x="0" y="0" font-size="17.4" style=";stroke-width:0.3px" textLength="60" lengthAdjust="spacingAndGlyphs">(2)5½"</text>
<text transform="translate(744,1731) rotate(-90)" x="0" y="0" font-size="17.4" style=";stroke-width:0.3px" textLength="59" lengthAdjust="spacingAndGlyphs">DROPS</text>
<text transform="translate(915,1681) rotate(-90)" x="0" y="0" font-size="17.4" style=";stroke-width:0.3px" textLength="17" lengthAdjust="spacingAndGlyphs">2"</text>
<text x="950" y="1122" font-size="18.2" style=";stroke-width:0.3px" textLength="32" lengthAdjust="spacingAndGlyphs">COV.</text>
<text x="945" y="1139.6" font-size="18.2" style=";stroke-width:0.3px" textLength="42.6" lengthAdjust="spacingAndGlyphs">CONC.</text>
<path d="M935.4 1106.7 L935.4 1078.6 M941.4 1090.6 L935.4 1078.6 L929.4 1090.6" fill="none" stroke="#000" stroke-width="1.4" stroke-linejoin="miter" stroke-linecap="butt"/>
<text transform="translate(933,1106) rotate(-90)" x="0" y="0" font-size="16" style=";stroke-width:0.2px" textLength="14" lengthAdjust="spacingAndGlyphs">2"</text>
<text transform="translate(941.6,1171) rotate(-90)" x="0" y="0" font-size="16" style=";stroke-width:0.2px" textLength="26" lengthAdjust="spacingAndGlyphs">3½"</text>
<text x="768.6" y="1638.4" font-size="18.2" style=";stroke-width:0.3px" textLength="30.9" lengthAdjust="spacingAndGlyphs">COV.</text>
<text x="762.6" y="1657.2" font-size="18.2" style=";stroke-width:0.3px" textLength="42.1" lengthAdjust="spacingAndGlyphs">CONC.</text>
<path d="M747.4 1630 L747.4 1652.4 M741.4 1640.4 L747.4 1652.4 L753.4 1640.4" fill="none" stroke="#000" stroke-width="1.4" stroke-linejoin="miter" stroke-linecap="butt"/>
<text transform="translate(762,1636) rotate(-90)" x="0" y="0" font-size="16" style=";stroke-width:0.2px" textLength="14" lengthAdjust="spacingAndGlyphs">2"</text>
<text transform="translate(791.3,1601.6) rotate(-90)" x="0" y="0" font-size="16" style=";stroke-width:0.2px" textLength="26" lengthAdjust="spacingAndGlyphs">3½"</text>
<text transform="translate(854.6,1618.5) rotate(-90)" x="0" y="0" font-size="16" style=";stroke-width:0.2px" textLength="20" lengthAdjust="spacingAndGlyphs">15"</text>
<path d="M944.6 1165.2 A10.2 10.2 0 0 1 938.3 1184.5 Z" fill="#000" stroke="none" />
<line x1="941.2" y1="1173.3" x2="948.2" y2="1166.3" stroke="#fff" stroke-width="0.8" />
<line x1="942.7" y1="1178.4" x2="949.7" y2="1171.4" stroke="#fff" stroke-width="0.8" />
<line x1="944.2" y1="1183.4" x2="951.2" y2="1176.4" stroke="#fff" stroke-width="0.8" />
<line x1="944.6" y1="1155.3" x2="944.6" y2="1166" stroke="#000" stroke-width="1.3" />
<line x1="938.3" y1="1182.3" x2="938.3" y2="1193.5" stroke="#000" stroke-width="1.3" />
<path d="M793.5 1595 A10.4 10.4 0 0 1 799.8 1614.9 Z" fill="#000" stroke="none" />
<line x1="796.5" y1="1603.3" x2="803.5" y2="1596.3" stroke="#fff" stroke-width="0.8" />
<line x1="798" y1="1608.5" x2="805" y2="1601.5" stroke="#fff" stroke-width="0.8" />
<line x1="799.6" y1="1613.7" x2="806.6" y2="1606.7" stroke="#fff" stroke-width="0.8" />
<line x1="793.5" y1="1585.8" x2="793.5" y2="1604" stroke="#000" stroke-width="1.3" />
<line x1="799.8" y1="1614" x2="799.8" y2="1625.9" stroke="#000" stroke-width="1.3" />
<path d="M853.5 1580.3 A10.3 10.3 0 0 1 859.3 1600.1 Z" fill="#000" stroke="none" />
<line x1="856.2" y1="1588.6" x2="863.2" y2="1581.6" stroke="#fff" stroke-width="0.8" />
<line x1="857.7" y1="1593.7" x2="864.7" y2="1586.7" stroke="#fff" stroke-width="0.8" />
<line x1="859.3" y1="1598.9" x2="866.3" y2="1591.9" stroke="#fff" stroke-width="0.8" />
<line x1="853.5" y1="1571" x2="853.5" y2="1590.3" stroke="#000" stroke-width="1.3" />
<line x1="859.3" y1="1596" x2="859.3" y2="1611" stroke="#000" stroke-width="1.3" />
<path d="M749.4 1668.5 L749.4 1858.2 L842 1858.2" fill="none" stroke="#000" stroke-width="2" />
<path d="M789.5 1668.5 L789.5 1819.7 L815.5 1819.7" fill="none" stroke="#000" stroke-width="2" />
<line x1="749.4" y1="1675.3" x2="789.5" y2="1675.3" stroke="#000" stroke-width="2" />
<line x1="749.4" y1="1668.5" x2="815.5" y2="1668.5" stroke="#000" stroke-width="2" />
<line x1="842" y1="1819.7" x2="842" y2="1974.3" stroke="#000" stroke-width="2" />
<line x1="1005.1" y1="1819.7" x2="1005.1" y2="1974.3" stroke="#000" stroke-width="2" />
<line x1="842" y1="1974.3" x2="823" y2="2082.7" stroke="#000" stroke-width="2.2" />
<line x1="1005.1" y1="1974.3" x2="1024.4" y2="2082.7" stroke="#000" stroke-width="2.2" />
<line x1="681.8" y1="2035.7" x2="830" y2="2035.7" stroke="#000" stroke-width="2" />
<line x1="1016" y1="2035.7" x2="1082.9" y2="2035.7" stroke="#000" stroke-width="2" />
<line x1="681.8" y1="2076.6" x2="1080.8" y2="2076.6" stroke="#000" stroke-width="1.8" />
<line x1="681.8" y1="2084.4" x2="1080.8" y2="2084.4" stroke="#000" stroke-width="1.8" />
<text x="705.5" y="2062.6" font-size="18.2" style=";stroke-width:0.3px" textLength="110.3" lengthAdjust="spacingAndGlyphs">4' CONC. WALK</text>
<text x="754.9" y="2100.7" font-size="17.4" style=";stroke-width:0.3px" textLength="36.9" lengthAdjust="spacingAndGlyphs">CURB</text>
<rect x="582.6" y="1180.8" width="60.4" height="24.8" fill="none" stroke="#000" stroke-width="1.8"/>
<text x="588.6" y="1198.9" font-size="16.7" style=";stroke-width:0.2px" textLength="48.4" lengthAdjust="spacingAndGlyphs">605.9</text>
<rect x="869.5" y="1202.6" width="60.7" height="24.4" fill="none" stroke="#000" stroke-width="1.8"/>
<text x="875.5" y="1220.5" font-size="16.7" style=";stroke-width:0.2px" textLength="48.7" lengthAdjust="spacingAndGlyphs">607.71</text>
<rect x="950.3" y="948.3" width="61.4" height="24.8" fill="none" stroke="#000" stroke-width="1.8"/>
<text x="956.3" y="966.5" font-size="16.7" style=";stroke-width:0.2px" textLength="49.4" lengthAdjust="spacingAndGlyphs">606.8</text>
<rect x="919" y="979.2" width="60.6" height="24" fill="none" stroke="#000" stroke-width="1.8"/>
<text x="925" y="997" font-size="16.7" style=";stroke-width:0.2px" textLength="48.6" lengthAdjust="spacingAndGlyphs">606.6</text>
<rect x="1116.7" y="1130.8" width="61.3" height="24.9" fill="none" stroke="#000" stroke-width="1.8"/>
<text x="1122.7" y="1149" font-size="16.7" style=";stroke-width:0.2px" textLength="49.3" lengthAdjust="spacingAndGlyphs">606.6</text>
<rect x="795.5" y="1540" width="60.5" height="24.2" fill="none" stroke="#000" stroke-width="1.8"/>
<text x="801.5" y="1557.8" font-size="16.7" style=";stroke-width:0.2px" textLength="48.5" lengthAdjust="spacingAndGlyphs">607.71</text>
<rect x="918.2" y="1560.2" width="61" height="24" fill="none" stroke="#000" stroke-width="1.8"/>
<text x="924.2" y="1578" font-size="16.7" style=";stroke-width:0.2px" textLength="49" lengthAdjust="spacingAndGlyphs">606.75</text>
<rect x="887.7" y="1739.5" width="60.6" height="24" fill="none" stroke="#000" stroke-width="1.8"/>
<text x="893.7" y="1757.2" font-size="16.7" style=";stroke-width:0.2px" textLength="48.6" lengthAdjust="spacingAndGlyphs">606.46</text>
<rect x="588.4" y="1996.4" width="61" height="25.3" fill="none" stroke="#000" stroke-width="1.8"/>
<text x="594.4" y="2014.8" font-size="16.7" style=";stroke-width:0.2px" textLength="49" lengthAdjust="spacingAndGlyphs">604.7</text>
<rect x="856.3" y="2001.6" width="62.2" height="24.9" fill="none" stroke="#000" stroke-width="1.8"/>
<text x="862.3" y="2019.8" font-size="16.7" style=";stroke-width:0.2px" textLength="50.2" lengthAdjust="spacingAndGlyphs">605.00</text>
<rect x="933.4" y="2001.6" width="61.3" height="24.9" fill="none" stroke="#000" stroke-width="1.8"/>
<text x="939.4" y="2019.8" font-size="16.7" style=";stroke-width:0.2px" textLength="49.3" lengthAdjust="spacingAndGlyphs">605.30</text>
<rect x="1093.4" y="2000.6" width="60.5" height="24.7" fill="none" stroke="#000" stroke-width="1.8"/>
<text x="1099.4" y="2018.7" font-size="16.7" style=";stroke-width:0.2px" textLength="48.5" lengthAdjust="spacingAndGlyphs">605.5</text>
<path d="M643 1193 C 670 1193, 690 1200, 697 1204" fill="none" stroke="#000" stroke-width="1.3" />
<circle cx="696.8" cy="1204.2" r="4.5" fill="#000" stroke="none" stroke-width="0"/>
<path d="M930.2 1214 C 950 1214, 960 1185, 981 1167" fill="none" stroke="#000" stroke-width="1.3" />
<circle cx="981.6" cy="1167" r="4.5" fill="#000" stroke="none" stroke-width="0"/>
<path d="M1011.7 960 C 1022 960, 1026 966, 1026 975 L1026.5 1024.5" fill="none" stroke="#000" stroke-width="1.3" />
<circle cx="1026.5" cy="1024.5" r="4.5" fill="#000" stroke="none" stroke-width="0"/>
<path d="M919 991 C 905 991, 895 1005, 880 1024" fill="none" stroke="#000" stroke-width="1.3" />
<circle cx="879.3" cy="1024.5" r="4.5" fill="#000" stroke="none" stroke-width="0"/>
<path d="M1116.7 1143 C 1095 1143, 1075 1148, 1067 1153" fill="none" stroke="#000" stroke-width="1.3" />
<circle cx="1066.6" cy="1153.6" r="4.5" fill="#000" stroke="none" stroke-width="0"/>
<path d="M795.5 1552 C 775 1552, 760 1585, 740 1613" fill="none" stroke="#000" stroke-width="1.3" />
<circle cx="739.7" cy="1613.5" r="4.5" fill="#000" stroke="none" stroke-width="0"/>
<path d="M979.2 1572 C 1000 1572, 1005 1595, 1008 1610" fill="none" stroke="#000" stroke-width="1.3" />
<circle cx="1008" cy="1610.3" r="4.5" fill="#000" stroke="none" stroke-width="0"/>
<path d="M915 1763.5 C 920 1780, 922 1800, 923 1819" fill="none" stroke="#000" stroke-width="1.3" />
<circle cx="923" cy="1819.7" r="4.5" fill="#000" stroke="none" stroke-width="0"/>
<path d="M649.4 2009 C 665 2009, 675 1995, 681 1985" fill="none" stroke="#000" stroke-width="1.3" />
<path d="M856.3 2014 L848 2014 C 845 2014, 844.3 2008, 844.3 1980" fill="none" stroke="#000" stroke-width="1.3" />
<path d="M994.7 2014 L1002 2014 C 1005 2014, 1006.7 2008, 1006.7 1980" fill="none" stroke="#000" stroke-width="1.3" />
<path d="M1093.4 2013 C 1080 2013, 1078 2000, 1076 1985" fill="none" stroke="#000" stroke-width="1.3" />
<circle cx="697.6" cy="1956.3" r="4.5" fill="#000" stroke="none" stroke-width="0"/>
<line x1="697.6" y1="1956.3" x2="682" y2="1974" stroke="#000" stroke-width="1.3" />
<circle cx="1066.6" cy="1958.2" r="4.5" fill="#000" stroke="none" stroke-width="0"/>
<text x="699.3" y="881.3" font-size="14" style=";stroke-width:0.1px" textLength="50.5" lengthAdjust="spacingAndGlyphs">606.72</text>
<text x="1103.5" y="874" font-size="14" style=";stroke-width:0.1px" textLength="50.1" lengthAdjust="spacingAndGlyphs">607.49</text>
<text x="859.7" y="1792.8" font-size="14" style=";stroke-width:0.1px" textLength="50.5" lengthAdjust="spacingAndGlyphs">605.30</text>
<text x="692.7" y="1993.6" font-size="14" style=";stroke-width:0.1px" textLength="50.1" lengthAdjust="spacingAndGlyphs">604.77</text>
<text x="870.4" y="1996.4" font-size="14" style=";stroke-width:0.1px" textLength="50.9" lengthAdjust="spacingAndGlyphs">604.84</text>
<text transform="translate(697.2,989.3) rotate(-58)" x="0" y="0" font-size="14" style=";stroke-width:0.1px" textLength="56" lengthAdjust="spacingAndGlyphs">x606.35</text>
<text transform="translate(893.7,912.1) rotate(-60)" x="0" y="0" font-size="14" style=";stroke-width:0.1px" textLength="50" lengthAdjust="spacingAndGlyphs">607.03</text>
<text transform="translate(888.2,976.6) rotate(-60)" x="0" y="0" font-size="14" style=";stroke-width:0.1px" textLength="56" lengthAdjust="spacingAndGlyphs">x606.79</text>
<text transform="translate(1097.5,990) rotate(-58)" x="0" y="0" font-size="14" style=";stroke-width:0.1px" textLength="50" lengthAdjust="spacingAndGlyphs">607.20</text>
<text transform="translate(660.8,1376) rotate(-90)" x="0" y="0" font-size="14" style=";stroke-width:0.1px" textLength="56" lengthAdjust="spacingAndGlyphs">+605.59</text>
<text transform="translate(1048.5,1413.7) rotate(-62)" x="0" y="0" font-size="14" style=";stroke-width:0.1px" textLength="56" lengthAdjust="spacingAndGlyphs">606.32+</text>
<text transform="translate(698.1,1784.8) rotate(-60)" x="0" y="0" font-size="14" style=";stroke-width:0.1px" textLength="50" lengthAdjust="spacingAndGlyphs">604.92</text>
<text transform="translate(1101.8,1775.3) rotate(-60)" x="0" y="0" font-size="14" style=";stroke-width:0.1px" textLength="56" lengthAdjust="spacingAndGlyphs">+605.69</text>
<text transform="translate(1098.7,1967.7) rotate(-58)" x="0" y="0" font-size="14" style=";stroke-width:0.1px" textLength="50" lengthAdjust="spacingAndGlyphs">605.33</text>
<path d="M697.2 866 L697.2 935 M686 910.4 L697.2 935 L708.4 910.4" fill="none" stroke="#000" stroke-width="2.2" stroke-linejoin="miter" stroke-linecap="butt"/>
<path d="M844.5 886 L820.1 949.5 M818.5 922.5 L820.1 949.5 L839.4 930.6" fill="none" stroke="#000" stroke-width="2.2" stroke-linejoin="miter" stroke-linecap="butt"/>
<path d="M990.4 880 L965.1 943 M963.9 916 L965.1 943 L984.7 924.3" fill="none" stroke="#000" stroke-width="2.2" stroke-linejoin="miter" stroke-linecap="butt"/>
<path d="M1066.6 860 L1066.6 928 M1055.4 903.4 L1066.6 928 L1077.8 903.4" fill="none" stroke="#000" stroke-width="2.2" stroke-linejoin="miter" stroke-linecap="butt"/>
<path d="M834.9 1047.5 L771.7 1070 M791.1 1051.2 L771.7 1070 L798.6 1072.3" fill="none" stroke="#000" stroke-width="2.2" stroke-linejoin="miter" stroke-linecap="butt"/>
<path d="M861.5 1149.5 L828.8 1091 M850.6 1107 L828.8 1091 L831 1117.9" fill="none" stroke="#000" stroke-width="2.2" stroke-linejoin="miter" stroke-linecap="butt"/>
<path d="M697.6 1244 L697.6 1314.5 M686.4 1289.9 L697.6 1314.5 L708.8 1289.9" fill="none" stroke="#000" stroke-width="2.2" stroke-linejoin="miter" stroke-linecap="butt"/>
<path d="M697.6 1445 L697.6 1515 M686.4 1490.4 L697.6 1515 L708.8 1490.4" fill="none" stroke="#000" stroke-width="2.2" stroke-linejoin="miter" stroke-linecap="butt"/>
<path d="M697.6 1678.5 L697.6 1746.7 M686.4 1722.1 L697.6 1746.7 L708.8 1722.1" fill="none" stroke="#000" stroke-width="2.2" stroke-linejoin="miter" stroke-linecap="butt"/>
<path d="M1066.6 1236 L1066.6 1304.4 M1055.4 1279.8 L1066.6 1304.4 L1077.8 1279.8" fill="none" stroke="#000" stroke-width="2.2" stroke-linejoin="miter" stroke-linecap="butt"/>
<path d="M1066.6 1415 L1066.6 1485 M1055.4 1460.4 L1066.6 1485 L1077.8 1460.4" fill="none" stroke="#000" stroke-width="2.2" stroke-linejoin="miter" stroke-linecap="butt"/>
<path d="M1066.6 1706.6 L1066.6 1774.8 M1055.4 1750.2 L1066.6 1774.8 L1077.8 1750.2" fill="none" stroke="#000" stroke-width="2.2" stroke-linejoin="miter" stroke-linecap="butt"/>
<path d="M767.8 1724.6 L767.8 1792.8 M756.6 1768.2 L767.8 1792.8 L779 1768.2" fill="none" stroke="#000" stroke-width="2.2" stroke-linejoin="miter" stroke-linecap="butt"/>
<path d="M919.8 1646.4 L919.8 1714.6 M908.6 1690 L919.8 1714.6 L931 1690" fill="none" stroke="#000" stroke-width="2.2" stroke-linejoin="miter" stroke-linecap="butt"/>
<path d="M924.5 1990.4 L924.5 2058.6 M913.3 2034 L924.5 2058.6 L935.7 2034" fill="none" stroke="#000" stroke-width="2.2" stroke-linejoin="miter" stroke-linecap="butt"/>
<path d="M787 1894 L768.9 1958.3 M764.8 1931.6 L768.9 1958.3 L786.3 1937.7" fill="none" stroke="#000" stroke-width="2.2" stroke-linejoin="miter" stroke-linecap="butt"/>
<path d="M697.2 1009 L697.2 1078.4 M686 1053.8 L697.2 1078.4 L708.4 1053.8" fill="none" stroke="#000" stroke-width="2.2" stroke-linejoin="miter" stroke-linecap="butt"/>
<line x1="995.2" y1="1024.5" x2="902.1" y2="1024.5" stroke="#000" stroke-width="2.2" />
<path d="M902.1 1024.5 L920.1 1020.3 L942.1 1017.5 L942.1 1031.5 L920.1 1028.7 Z" fill="#000" stroke="none" />
<text x="948.3" y="1047.8" font-size="24.7" style="stroke:#000;stroke-width:1.3px" font-weight="bold" font-style="italic" textLength="38.1" lengthAdjust="spacingAndGlyphs">CUT</text>
<line x1="1026.5" y1="1024.5" x2="1066.6" y2="1106.7" stroke="#000" stroke-width="2.2" />
<path d="M1066.6 1106.7 L1053.9 1090.3 L1040.6 1069.3 L1053.2 1063.2 L1061.5 1086.7 Z" fill="#000" stroke="none" />
<line x1="726.8" y1="1088.7" x2="701.5" y2="1172.9" stroke="#000" stroke-width="2.2" />
<path d="M701.5 1172.9 L703.3 1152.3 L707.7 1127.8 L721.2 1131.8 L711.3 1154.7 Z" fill="#000" stroke="none" />
<line x1="1067.2" y1="1838.7" x2="1067.2" y2="1930.5" stroke="#000" stroke-width="2.2" />
<path d="M1067.2 1930.5 L1063 1911.6 L1060.2 1888.5 L1074.2 1888.5 L1071.4 1911.6 Z" fill="#000" stroke="none" />
<line x1="696.8" y1="1850" x2="696.8" y2="1940.2" stroke="#000" stroke-width="1.8" />
<path d="M690.5 1900.4 L703.5 1900.4 L697.5 1935 L696 1935 Z" fill="#000" stroke="none" />
<line x1="713.7" y1="866.5" x2="728.2" y2="842" stroke="#000" stroke-width="2.4" />
<line x1="730.7" y1="866.5" x2="745.2" y2="842" stroke="#000" stroke-width="2.4" />
<line x1="866" y1="866.5" x2="880.5" y2="842" stroke="#000" stroke-width="2.4" />
<line x1="883" y1="866.5" x2="897.5" y2="842" stroke="#000" stroke-width="2.4" />
<line x1="1006" y1="866.5" x2="1020.5" y2="842" stroke="#000" stroke-width="2.4" />
<line x1="1023" y1="866.5" x2="1037.5" y2="842" stroke="#000" stroke-width="2.4" />
<line x1="669.5" y1="878" x2="694.5" y2="892" stroke="#000" stroke-width="2.4" />
<line x1="669.5" y1="895" x2="694.5" y2="909" stroke="#000" stroke-width="2.4" />
<line x1="669.5" y1="997.7" x2="694.5" y2="1011.7" stroke="#000" stroke-width="2.4" />
<line x1="669.5" y1="1014.7" x2="694.5" y2="1028.7" stroke="#000" stroke-width="2.4" />
<line x1="669.5" y1="1124.4" x2="694.5" y2="1138.4" stroke="#000" stroke-width="2.4" />
<line x1="669.5" y1="1141.4" x2="694.5" y2="1155.4" stroke="#000" stroke-width="2.4" />
<line x1="1069.5" y1="873.4" x2="1094.5" y2="887.4" stroke="#000" stroke-width="2.4" />
<line x1="1069.5" y1="890.4" x2="1094.5" y2="904.4" stroke="#000" stroke-width="2.4" />
<line x1="1069.5" y1="1003.4" x2="1094.5" y2="1017.4" stroke="#000" stroke-width="2.4" />
<line x1="1069.5" y1="1020.4" x2="1094.5" y2="1034.4" stroke="#000" stroke-width="2.4" />
<line x1="1069.5" y1="1120.6" x2="1094.5" y2="1134.6" stroke="#000" stroke-width="2.4" />
<line x1="1069.5" y1="1137.6" x2="1094.5" y2="1151.6" stroke="#000" stroke-width="2.4" />
<line x1="694" y1="1187.5" x2="708.5" y2="1162.5" stroke="#000" stroke-width="2.4" />
<line x1="711" y1="1187.5" x2="725.5" y2="1162.5" stroke="#000" stroke-width="2.4" />
<line x1="1043" y1="1180" x2="1056" y2="1162" stroke="#000" stroke-width="2.4" />
<line x1="1056.5" y1="1180" x2="1069.5" y2="1162" stroke="#000" stroke-width="2.4" />
<line x1="642" y1="1222.8" x2="678" y2="1222.8" stroke="#000" stroke-width="1.3" />
<path d="M678 1222.8 L661 1227.1 L661 1218.5 Z" fill="#000" stroke="none" />
<line x1="778" y1="1222.8" x2="739.5" y2="1222.8" stroke="#000" stroke-width="1.3" />
<path d="M739.5 1222.8 L756.5 1218.5 L756.5 1227.1 Z" fill="#000" stroke="none" />
<text x="694.5" y="1234" font-size="17.9" style=";stroke-width:0.3px" textLength="31.6" lengthAdjust="spacingAndGlyphs">5.5'</text>
<line x1="988.4" y1="1212.2" x2="1024.5" y2="1212.2" stroke="#000" stroke-width="1.3" />
<path d="M1024.5 1212.2 L1007.5 1216.5 L1007.5 1207.9 Z" fill="#000" stroke="none" />
<line x1="1122.8" y1="1212.2" x2="1086" y2="1212.2" stroke="#000" stroke-width="1.3" />
<path d="M1086 1212.2 L1103 1207.9 L1103 1216.5 Z" fill="#000" stroke="none" />
<text x="1038.5" y="1218.2" font-size="17.9" style=";stroke-width:0.3px" textLength="32.1" lengthAdjust="spacingAndGlyphs">5.5'</text>
<line x1="642" y1="1564.2" x2="678" y2="1564.2" stroke="#000" stroke-width="1.3" />
<path d="M678 1564.2 L661 1568.5 L661 1559.9 Z" fill="#000" stroke="none" />
<line x1="772.6" y1="1564.2" x2="738.5" y2="1564.2" stroke="#000" stroke-width="1.3" />
<path d="M738.5 1564.2 L755.5 1559.9 L755.5 1568.5 Z" fill="#000" stroke="none" />
<text x="691.2" y="1571" font-size="17.9" style=";stroke-width:0.3px" textLength="35.3" lengthAdjust="spacingAndGlyphs">5.0'</text>
<line x1="990.5" y1="1803.5" x2="1028.5" y2="1803.5" stroke="#000" stroke-width="1.3" />
<path d="M1028.5 1803.5 L1011.5 1807.8 L1011.5 1799.2 Z" fill="#000" stroke="none" />
<line x1="1122.9" y1="1803.5" x2="1085.5" y2="1803.5" stroke="#000" stroke-width="1.3" />
<path d="M1085.5 1803.5 L1102.5 1799.2 L1102.5 1807.8 Z" fill="#000" stroke="none" />
<text x="1041.7" y="1810.2" font-size="17.9" style=";stroke-width:0.3px" textLength="28.6" lengthAdjust="spacingAndGlyphs">5.0'</text>
<text x="866.9" y="1857" font-size="18.2" style=";stroke-width:0.3px" textLength="74.1" lengthAdjust="spacingAndGlyphs">CLEANOUT</text>
<circle cx="855.9" cy="1866" r="6.5" fill="#fff" stroke="#000" stroke-width="2"/>
<text x="588.9" y="1845" font-size="18.2" style=";stroke-width:0.3px" textLength="35.3" lengthAdjust="spacingAndGlyphs">TELE.</text>
<text x="570" y="1863" font-size="18.2" style=";stroke-width:0.3px" textLength="70.3" lengthAdjust="spacingAndGlyphs">PEDESTAL</text>
<path d="M640 1858 C 655 1858, 668 1870, 678 1880" fill="none" stroke="#000" stroke-width="1.3" />
<path d="M686.1 1880 A7.2 7.2 0 0 1 686.1 1894.4" fill="none" stroke="#000" stroke-width="2.4" />
<path d="M678.4 1882 L667 1880.4 L670 1874.1 Z" fill="#000" stroke="none" />
<path d="M693.5 1908.8 L686.1 1913.5 L693.5 1922.2" fill="none" stroke="#000" stroke-width="2.2" />
<text x="579.6" y="1908.2" font-size="18.2" style=";stroke-width:0.3px" textLength="36.1" lengthAdjust="spacingAndGlyphs">CATV</text>
<text x="561.5" y="1926.2" font-size="18.2" style=";stroke-width:0.3px" textLength="71" lengthAdjust="spacingAndGlyphs">PEDESTAL</text>
<line x1="632.5" y1="1922.2" x2="674" y2="1917.4" stroke="#000" stroke-width="1.3" />
<path d="M677.4 1916.8 L669.6 1920.7 L669.2 1913.7 Z" fill="#000" stroke="none" />
<text x="586.4" y="1947" font-size="18.2" style=";stroke-width:0.3px" textLength="38.9" lengthAdjust="spacingAndGlyphs">ELEC.</text>
<text x="591.6" y="1964.3" font-size="18.2" style=";stroke-width:0.3px" textLength="26.9" lengthAdjust="spacingAndGlyphs">BOX</text>
<path d="M618.5 1959 C 635 1958, 655 1950, 670 1946" fill="none" stroke="#000" stroke-width="1.3" />
<rect x="666.4" y="1937.5" width="11.7" height="9.4" fill="none" stroke="#000" stroke-width="1.5"/>
<path d="M674.8 1943.2 L662.8 1949.2 L661.4 1942.4 Z" fill="#000" stroke="none" />
<text x="701.5" y="1900" font-size="18.2" style=";stroke-width:0.3px" textLength="65.4" lengthAdjust="spacingAndGlyphs">4' CONC.</text>
<text x="714.7" y="1916.2" font-size="18.2" style=";stroke-width:0.3px" textLength="36.1" lengthAdjust="spacingAndGlyphs">WALK</text>
<path d="M750 1910 L770 1910 C 778 1910, 779 1900, 779 1880 L778.9 1858" fill="none" stroke="#000" stroke-width="1.3" />
<path d="M778.9 1852 L782.9 1864 L774.9 1864 Z" fill="#000" stroke="none" />
<line x1="798.7" y1="1822" x2="798.7" y2="2034.5" stroke="#000" stroke-width="1.4" />
<path d="M798.7 1822 L803.2 1838 L794.2 1838 Z" fill="#000" stroke="none" />
<path d="M798.7 2034.5 L794.2 2018.5 L803.2 2018.5 Z" fill="#000" stroke="none" />
<rect x="776.7" y="1921.2" width="44" height="18" fill="#fff" transform="rotate(-90 798.7 1930.2)"/>
<text transform="translate(805,1948.2) rotate(-90)" x="0" y="0" font-size="18.2" style=";stroke-width:0.3px" textLength="36" lengthAdjust="spacingAndGlyphs">21.7'</text>
<line x1="779.8" y1="1837" x2="779.8" y2="1855" stroke="#000" stroke-width="1.4" />
<text x="908.8" y="1896.1" font-size="18.9" style=";stroke-width:0.3px" textLength="32.5" lengthAdjust="spacingAndGlyphs">16.3'</text>
<text x="905.2" y="1913" font-size="18.9" style=";stroke-width:0.3px" textLength="42.1" lengthAdjust="spacingAndGlyphs">CONC.</text>
<text x="907" y="1931.6" font-size="18.9" style=";stroke-width:0.3px" textLength="37.9" lengthAdjust="spacingAndGlyphs">DRIVE</text>
<text transform="translate(859.5,1929.8) rotate(-90)" x="0" y="0" font-size="17.4" style=";stroke-width:0.3px" textLength="31" lengthAdjust="spacingAndGlyphs">9.4%</text>
<text transform="translate(881.1,1935.8) rotate(-90)" x="0" y="0" font-size="18.9" style=";stroke-width:0.3px" textLength="44" lengthAdjust="spacingAndGlyphs">SLOPE</text>
<path d="M864.5 1891.3 L864.5 1959.3 L855.3 1940.6 L864.5 1940.6" fill="none" stroke="#000" stroke-width="1.5" />
<text transform="translate(975,1929.2) rotate(-90)" x="0" y="0" font-size="17.4" style=";stroke-width:0.3px" textLength="32.5" lengthAdjust="spacingAndGlyphs">7.5%</text>
<text transform="translate(996.7,1934) rotate(-90)" x="0" y="0" font-size="18.9" style=";stroke-width:0.3px" textLength="43.3" lengthAdjust="spacingAndGlyphs">SLOPE</text>
<path d="M979.6 1890 L979.6 1958.4 L970.2 1939.4 L979.6 1939.4" fill="none" stroke="#000" stroke-width="1.5" />
<text x="716.7" y="2025.3" font-size="16" font-weight="bold" textLength="30.1" lengthAdjust="spacingAndGlyphs">WM.</text>
<path d="M679.8 2004.4 L679.8 2028.5 L712.7 2004.4 L712.7 2028.5 Z" fill="none" stroke="#000" stroke-width="2.2" />
<text transform="translate(625.4,2140) rotate(-52.4)" x="0" y="0" font-size="13.7" style="stroke:none" textLength="50.6" lengthAdjust="spacingAndGlyphs">T.O.C.=</text>
<text transform="translate(643.6,2142.7) rotate(-53.8)" x="0" y="0" font-size="13.7" style="stroke:none" textLength="50.4" lengthAdjust="spacingAndGlyphs">604.43</text>
<text transform="translate(658.5,2141) rotate(-52.7)" x="0" y="0" font-size="13.7" style="stroke:none" textLength="42.2" lengthAdjust="spacingAndGlyphs">GUT.=</text>
<text transform="translate(673.5,2147.5) rotate(-55)" x="0" y="0" font-size="13.7" style="stroke:none" textLength="50.3" lengthAdjust="spacingAndGlyphs">603.96</text>
<text transform="translate(837,2140.2) rotate(-52)" x="0" y="0" font-size="13.7" style="stroke:none" textLength="55.2" lengthAdjust="spacingAndGlyphs">T.O.C.=</text>
<text transform="translate(854.1,2141.2) rotate(-54.2)" x="0" y="0" font-size="13.7" style="stroke:none" textLength="51.1" lengthAdjust="spacingAndGlyphs">604.75</text>
<text transform="translate(872.2,2140.2) rotate(-53.5)" x="0" y="0" font-size="13.7" style="stroke:none" textLength="41.7" lengthAdjust="spacingAndGlyphs">GUT.=</text>
<text transform="translate(885.2,2145.2) rotate(-55.7)" x="0" y="0" font-size="13.7" style="stroke:none" textLength="51.4" lengthAdjust="spacingAndGlyphs">604.22</text>
<text transform="translate(1023.5,2140.2) rotate(-53.7)" x="0" y="0" font-size="13.7" style="stroke:none" textLength="53.9" lengthAdjust="spacingAndGlyphs">T.O.C.=</text>
<text transform="translate(1039.6,2141.2) rotate(-54.6)" x="0" y="0" font-size="13.7" style="stroke:none" textLength="53.4" lengthAdjust="spacingAndGlyphs">605.16</text>
<text transform="translate(1055.6,2140.2) rotate(-51.3)" x="0" y="0" font-size="13.7" style="stroke:none" textLength="43" lengthAdjust="spacingAndGlyphs">GUT.=</text>
<text transform="translate(1071.7,2145.2) rotate(-56.7)" x="0" y="0" font-size="13.7" style="stroke:none" textLength="50.8" lengthAdjust="spacingAndGlyphs">604.74</text>
<line x1="671" y1="2078" x2="681" y2="2074" stroke="#000" stroke-width="1.2" />
<line x1="674" y1="2069" x2="678" y2="2083" stroke="#000" stroke-width="1.2" />
<line x1="671" y1="2087" x2="681" y2="2083" stroke="#000" stroke-width="1.2" />
<line x1="674" y1="2078" x2="678" y2="2092" stroke="#000" stroke-width="1.2" />
<line x1="874" y1="2078" x2="884" y2="2074" stroke="#000" stroke-width="1.2" />
<line x1="877" y1="2069" x2="881" y2="2083" stroke="#000" stroke-width="1.2" />
<line x1="874" y1="2087" x2="884" y2="2083" stroke="#000" stroke-width="1.2" />
<line x1="877" y1="2078" x2="881" y2="2092" stroke="#000" stroke-width="1.2" />
<line x1="1074" y1="2078" x2="1084" y2="2074" stroke="#000" stroke-width="1.2" />
<line x1="1077" y1="2069" x2="1081" y2="2083" stroke="#000" stroke-width="1.2" />
<line x1="1074" y1="2087" x2="1084" y2="2083" stroke="#000" stroke-width="1.2" />
<line x1="1077" y1="2078" x2="1081" y2="2092" stroke="#000" stroke-width="1.2" />
<rect x="54" y="2152.1" width="361.8" height="589.9" fill="none" stroke="#000" stroke-width="2"/>
<line x1="48" y1="2183.4" x2="416" y2="2183.4" stroke="#777" stroke-width="2.4" />
<line x1="48" y1="2214.7" x2="416" y2="2214.7" stroke="#777" stroke-width="2.4" />
<line x1="48" y1="2246" x2="416" y2="2246" stroke="#777" stroke-width="2.4" />
<line x1="48" y1="2277.3" x2="416" y2="2277.3" stroke="#777" stroke-width="2.4" />
<line x1="48" y1="2308.6" x2="416" y2="2308.6" stroke="#777" stroke-width="2.4" />
<line x1="48" y1="2339.9" x2="416" y2="2339.9" stroke="#777" stroke-width="2.4" />
<line x1="48" y1="2371.2" x2="416" y2="2371.2" stroke="#777" stroke-width="2.4" />
<line x1="48" y1="2402.5" x2="416" y2="2402.5" stroke="#777" stroke-width="2.4" />
<line x1="48" y1="2433.8" x2="416" y2="2433.8" stroke="#777" stroke-width="2.4" />
<line x1="48" y1="2465.1" x2="416" y2="2465.1" stroke="#777" stroke-width="2.4" />
<line x1="48" y1="2496.4" x2="416" y2="2496.4" stroke="#777" stroke-width="2.4" />
<line x1="48" y1="2527.7" x2="416" y2="2527.7" stroke="#777" stroke-width="2.4" />
<line x1="48" y1="2559" x2="416" y2="2559" stroke="#777" stroke-width="2.4" />
<line x1="48" y1="2590.3" x2="416" y2="2590.3" stroke="#777" stroke-width="2.4" />
<line x1="48" y1="2621.6" x2="416" y2="2621.6" stroke="#777" stroke-width="2.4" />
<line x1="48" y1="2652.9" x2="416" y2="2652.9" stroke="#777" stroke-width="2.4" />
<line x1="48" y1="2684.2" x2="416" y2="2684.2" stroke="#777" stroke-width="2.4" />
<line x1="48" y1="2715.5" x2="416" y2="2715.5" stroke="#777" stroke-width="2.4" />
<line x1="284.7" y1="2183.4" x2="284.7" y2="2749" stroke="#777" stroke-width="2.4" />
<line x1="415.8" y1="2152.1" x2="415.8" y2="2742" stroke="#000" stroke-width="1.8" />
<text x="178.4" y="2175.4" font-size="24" style="fill:#fff;stroke:#000;stroke-width:1.1px" font-weight="bold" textLength="106" lengthAdjust="spacing" transform="translate(178.4 2175.4) scale(1 1.15) translate(-178.4 -2175.4)">AREAS</text>
<text x="65" y="2208.4" font-size="26.2" style="stroke-width:0.3px" transform="translate(65 2208.4) scale(0.74 1) translate(-65 -2208.4)">DRIVEWAY</text>
<text x="412" y="2208.4" font-size="26.2" style="stroke-width:0.3px" text-anchor="end" transform="translate(412 2208.4) scale(0.74 1) translate(-412 -2208.4)">252 SQ. FT.</text>
<text x="65" y="2239.7" font-size="26.2" style="stroke-width:0.3px" transform="translate(65 2239.7) scale(0.74 1) translate(-65 -2239.7)">APPROACH</text>
<text x="412" y="2239.7" font-size="26.2" style="stroke-width:0.3px" text-anchor="end" transform="translate(412 2239.7) scale(0.74 1) translate(-412 -2239.7)">202 SQ. FT.</text>
<text x="65" y="2271" font-size="26.2" style="stroke-width:0.3px" transform="translate(65 2271) scale(0.74 1) translate(-65 -2271)">LEAD WALK</text>
<text x="412" y="2271" font-size="26.2" style="stroke-width:0.3px" text-anchor="end" transform="translate(412 2271) scale(0.74 1) translate(-412 -2271)">99 SQ. FT.</text>
<text x="65" y="2302.3" font-size="26.2" style="stroke-width:0.3px" transform="translate(65 2302.3) scale(0.74 1) translate(-65 -2302.3)">PUBLIC WALK</text>
<text x="412" y="2302.3" font-size="26.2" style="stroke-width:0.3px" text-anchor="end" transform="translate(412 2302.3) scale(0.74 1) translate(-412 -2302.3)">83 SQ. FT.</text>
<text x="65" y="2333.6" font-size="26.2" style="stroke-width:0.3px" transform="translate(65 2333.6) scale(0.74 1) translate(-65 -2333.6)">PATIO</text>
<text x="412" y="2333.6" font-size="26.2" style="stroke-width:0.3px" text-anchor="end" transform="translate(412 2333.6) scale(0.74 1) translate(-412 -2333.6)">N/A</text>
<text x="65" y="2364.9" font-size="26.2" style="stroke-width:0.3px" transform="translate(65 2364.9) scale(0.74 1) translate(-65 -2364.9)">HVAC PADS</text>
<text x="412" y="2364.9" font-size="26.2" style="stroke-width:0.3px" text-anchor="end" transform="translate(412 2364.9) scale(0.74 1) translate(-412 -2364.9)">16 SQ. FT.</text>
<text x="65" y="2396.2" font-size="26.2" style="stroke-width:0.3px" transform="translate(65 2396.2) scale(0.74 1) translate(-65 -2396.2)">TOTAL</text>
<text x="412" y="2396.2" font-size="26.2" style="stroke-width:0.3px" text-anchor="end" transform="translate(412 2396.2) scale(0.74 1) translate(-412 -2396.2)">652 SQ. FT.</text>
<text x="65" y="2458.8" font-size="26.2" style="stroke-width:0.3px" transform="translate(65 2458.8) scale(0.74 1) translate(-65 -2458.8)">FRONT SOD</text>
<text x="412" y="2458.8" font-size="26.2" style="stroke-width:0.3px" text-anchor="end" transform="translate(412 2458.8) scale(0.74 1) translate(-412 -2458.8)">135SQ. YD.</text>
<text x="65" y="2490.1" font-size="26.2" style="stroke-width:0.3px" transform="translate(65 2490.1) scale(0.74 1) translate(-65 -2490.1)">REAR SOD</text>
<text x="412" y="2490.1" font-size="26.2" style="stroke-width:0.3px" text-anchor="end" transform="translate(412 2490.1) scale(0.74 1) translate(-412 -2490.1)">131SQ. YD.</text>
<text x="65" y="2552.7" font-size="26.2" style="stroke-width:0.3px" transform="translate(65 2552.7) scale(0.74 1) translate(-65 -2552.7)">TOTAL FENCE</text>
<text x="412" y="2552.7" font-size="26.2" style="stroke-width:0.3px" text-anchor="end" transform="translate(412 2552.7) scale(0.74 1) translate(-412 -2552.7)">115 LN. FT.</text>
<text x="65" y="2615.3" font-size="26.2" style="stroke-width:0.3px" transform="translate(65 2615.3) scale(0.74 1) translate(-65 -2615.3)">AVERAGE EXPOSURE</text>
<text x="412" y="2615.3" font-size="26.2" style="stroke-width:0.3px" text-anchor="end" transform="translate(412 2615.3) scale(0.74 1) translate(-412 -2615.3)">26"</text>
<text x="65" y="2646.6" font-size="26.2" style="stroke-width:0.3px" transform="translate(65 2646.6) scale(0.74 1) translate(-65 -2646.6)">DRIVE SLOPE</text>
<text x="412" y="2646.6" font-size="26.2" style="stroke-width:0.3px" text-anchor="end" transform="translate(412 2646.6) scale(0.74 1) translate(-412 -2646.6)">9.4%</text>
<text x="65" y="2677.9" font-size="26.2" style="stroke-width:0.3px" transform="translate(65 2677.9) scale(0.74 1) translate(-65 -2677.9)">SLAB AREA</text>
<text x="412" y="2677.9" font-size="26.2" style="stroke-width:0.3px" text-anchor="end" transform="translate(412 2677.9) scale(0.74 1) translate(-412 -2677.9)">1,854 SQ. FT.</text>
<text x="65" y="2709.2" font-size="26.2" style="stroke-width:0.3px" transform="translate(65 2709.2) scale(0.74 1) translate(-65 -2709.2)">LOT AREA</text>
<text x="412" y="2709.2" font-size="26.2" style="stroke-width:0.3px" text-anchor="end" transform="translate(412 2709.2) scale(0.74 1) translate(-412 -2709.2)">4,480 SQ. FT.</text>
<text x="671.2" y="2422.6" font-size="25.6" style="stroke:none;font-family:'Liberation Serif'" font-weight="bold" font-style="italic" textLength="191.8" lengthAdjust="spacing">SITE PLAN OF</text>
<text x="636.5" y="2449.1" font-size="25.6" style="stroke:none;font-family:'Liberation Serif'" font-weight="bold" font-style="italic" textLength="261.7" lengthAdjust="spacing">2511 RAMBO DRIVE</text>
<text x="642.4" y="2475.6" font-size="25.6" style="stroke:none;font-family:'Liberation Serif'" font-weight="bold" font-style="italic" textLength="251.4" lengthAdjust="spacing">LOT 72, BLOCK 23</text>
<text x="604.1" y="2502" font-size="25.6" style="stroke:none;font-family:'Liberation Serif'" font-weight="bold" font-style="italic" textLength="325.9" lengthAdjust="spacing">NEW CITY BLOCK 18087</text>
<text x="576.2" y="2533" font-size="29.8" style="stroke:#fff;stroke-width:0.6px;font-family:'Liberation Serif'" font-weight="bold" font-style="italic" textLength="383.8" lengthAdjust="spacing">APPLEWHITE MEADOWS</text>
<text x="592.4" y="2564.7" font-size="29.8" style="stroke:#fff;stroke-width:0.6px;font-family:'Liberation Serif'" font-weight="bold" font-style="italic" textLength="351.4" lengthAdjust="spacing">SUBDIVISION UNIT 2</text>
<text x="615.9" y="2593.2" font-size="25.6" style="stroke:none;font-family:'Liberation Serif'" font-weight="bold" font-style="italic" textLength="303.5" lengthAdjust="spacing">CITY OF SAN ANTONIO</text>
<text x="612.4" y="2619.7" font-size="25.6" style="stroke:none;font-family:'Liberation Serif'" font-weight="bold" font-style="italic" textLength="311.7" lengthAdjust="spacing">BEXAR COUNTY, TEXAS</text>
<text x="654.7" y="2649.1" font-size="21.4" style="stroke-width:0.1px" textLength="108.3" lengthAdjust="spacingAndGlyphs">DRAWN BY:</text>
<text x="798.2" y="2646" font-size="20.3" style=";stroke-width:0.4px" textLength="36.8" lengthAdjust="spacingAndGlyphs">P.K.</text>
<line x1="776.2" y1="2652" x2="842.4" y2="2652" stroke="#000" stroke-width="1.6" />
<text x="654.7" y="2675" font-size="21.4" style="stroke-width:0.1px" textLength="133.3" lengthAdjust="spacingAndGlyphs">CHECKED BY:</text>
<text x="817.4" y="2671.2" font-size="20.3" style=";stroke-width:0.4px" textLength="35.2" lengthAdjust="spacingAndGlyphs">W.J.</text>
<line x1="799.7" y1="2677" x2="866.8" y2="2677" stroke="#000" stroke-width="1.6" />
<text x="655.6" y="2700.6" font-size="21.4" style="stroke-width:0.1px" textLength="50" lengthAdjust="spacingAndGlyphs">DATE:</text>
<text x="732" y="2697" font-size="20.3" style=";stroke-width:0.4px" textLength="114.8" lengthAdjust="spacingAndGlyphs">6/26/2025</text>
<line x1="718.8" y1="2703" x2="878.5" y2="2703" stroke="#000" stroke-width="1.6" />
<line x1="1071.4" y1="2614.8" x2="1644" y2="2614.8" stroke="#000" stroke-width="5.3" />
<path d="M1136.3 2688.8 A110.5 110.5 0 1 1 1289.9 2688.8 L1274.4 2672.8 A88.3 88.3 0 1 0 1151.8 2672.8 Z" fill="#d9542b" stroke="#000" stroke-width="2.2" />
<path d="M1280.2 2698.3 A111.5 111.5 0 0 1 1146 2698.3 L1160 2679.8 A88.3 88.3 0 0 0 1266.2 2679.8 Z" fill="#231f20" stroke="#000" stroke-width="2.2" />
<circle cx="1213.1" cy="2609.3" r="62.7" fill="none" stroke="#231f20" stroke-width="17.5"/>
<line x1="1213" y1="2474" x2="1213" y2="2742" stroke="#231f20" stroke-width="9.2" stroke-linecap="round"/>
<path d="M1200 2563 L1226.8 2563 L1242.2 2578.4 L1242.2 2590.7 L1225.3 2590.7 L1225.3 2580.7 L1201.5 2580.7 L1201.5 2596 L1205 2600 L1232.2 2600 L1242.2 2610 L1242.2 2638.3 L1226.8 2654.5 L1200 2654.5 L1183.8 2638.3 L1183.8 2626.8 L1201.5 2626.8 L1201.5 2632.5 L1205.5 2636.8 L1223 2636.8 L1223 2618.4 L1193.5 2618.4 L1183.8 2606.8 L1183.8 2578.4 Z" fill="#d9542b" stroke="#231f20" stroke-width="1.5" />
<line x1="1213" y1="2563" x2="1213" y2="2580.7" stroke="#231f20" stroke-width="1.2" />
<text x="1368.9" y="2574.3" font-size="29.7" style="stroke-width:0.45px" textLength="223.8" lengthAdjust="spacingAndGlyphs">SINCLAIR LAND</text>
<text x="1365.5" y="2603.9" font-size="29.7" style="stroke-width:0.45px" textLength="243.1" lengthAdjust="spacingAndGlyphs">SURVEYING, INC.</text>
<text x="1388.2" y="2638.6" font-size="20.8" style="stroke:none" textLength="184.1" lengthAdjust="spacingAndGlyphs">3411 MAGIC DRIVE</text>
<text x="1334.1" y="2660.2" font-size="20.8" style="stroke:none" textLength="291.6" lengthAdjust="spacingAndGlyphs">SAN ANTONIO, TEXAS 78229</text>
<text x="1404.5" y="2681.8" font-size="20.8" style="stroke:none" textLength="150" lengthAdjust="spacingAndGlyphs">210-341-4518</text>
<text x="1345" y="2700.5" font-size="20.8" style="stroke:none" textLength="270.9" lengthAdjust="spacingAndGlyphs">TBPELS FIRM NO.10089000</text>
<text x="1336.4" y="2728.2" font-size="20.8" style="stroke:none" textLength="300.6" lengthAdjust="spacingAndGlyphs">JOB NUMBER:  S-202582304</text>
</svg>
</body></html>
